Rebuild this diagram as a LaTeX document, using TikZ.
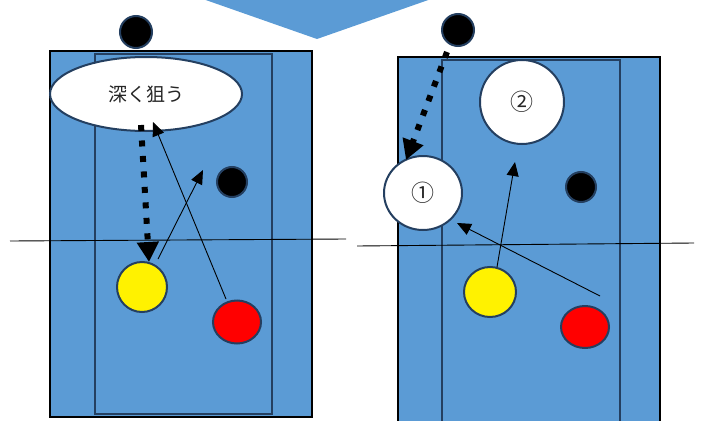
\documentclass[tikz,border=0pt]{standalone}
\usepackage{fontspec}
\newfontfamily\jpfont{Noto Sans CJK JP}
\usetikzlibrary{arrows.meta,shapes.geometric}
\definecolor{court}{HTML}{5B9BD5}
\definecolor{edge}{HTML}{243F60}
\tikzset{
  outer/.style={fill=court,draw=black,line width=2.4pt},
  inner/.style={draw=edge,line width=1.8pt},
  ball/.style={ellipse,draw=edge,line width=2pt,inner sep=0pt},
  net/.style={draw=black,line width=0.9pt},
  move/.style={draw=black,line width=0.9pt,-{Triangle[length=14pt,width=12pt]}},
  deep/.style={draw=black,line width=6pt,dash pattern=on 6pt off 9.5pt,-{Triangle[length=20pt,width=21pt]}},
  lbl/.style={font=\jpfont\fontsize{19}{19}\selectfont,text=black!85},
  num/.style={font=\jpfont\fontsize{23}{23}\selectfont,text=black!85}
}
\begin{document}
\begin{tikzpicture}[x=1pt,y=-1pt]
\useasboundingbox (0,0) rectangle (714,420);
% top triangle
\fill[court] (200,-2) -- (434,-2) -- (317,39) -- cycle;
% ---------- left court ----------
\draw[outer] (50,51) rectangle (312,417);
\draw[inner] (95,54) rectangle (272,414);
\node[ball,fill=black,minimum width=32pt,minimum height=32pt] (Ltop) at (136,32) {};
\node[ball,fill=white,minimum width=192pt,minimum height=74pt,lbl] (Lell) at (146,94) {深く狙う};
\node[ball,fill=black,minimum width=30pt,minimum height=30pt] (Lblk) at (232,182) {};
\node[ball,fill=yellow,minimum width=50pt,minimum height=50pt] (Ly) at (142,287) {};
\node[ball,fill=red,minimum width=48pt,minimum height=43pt] (Lr) at (237,322) {};
\coordinate (LnetA) at (10,241);
\coordinate (LnetB) at (346,239);
\draw[net] (LnetA) -- (LnetB);
\coordinate (Ld1) at (141,125);
\coordinate (Ld2) at (149,262);
\draw[deep] (Ld1) -- (Ld2);
\coordinate (La1) at (226,299);
\coordinate (La2) at (153,122);
\draw[move] (La1) -- (La2);
\coordinate (Lb1) at (158,259);
\coordinate (Lb2) at (203,170);
\draw[move] (Lb1) -- (Lb2);
% ---------- right court ----------
\draw[outer] (398,57) rectangle (660,425);
\draw[inner] (442,60) rectangle (620,422);
\node[ball,fill=black,minimum width=32pt,minimum height=32pt] (Rtop) at (458,30) {};
\node[ball,fill=white,minimum width=84pt,minimum height=84pt,num] (R2) at (522,102) {②};
\node[ball,fill=white,minimum width=78pt,minimum height=74pt,num] (R1) at (423,193) {①};
\node[ball,fill=black,minimum width=30pt,minimum height=30pt] (Rblk) at (581,187) {};
\node[ball,fill=yellow,minimum width=52pt,minimum height=50pt] (Ry) at (490,292) {};
\node[ball,fill=red,minimum width=48pt,minimum height=42pt] (Rr) at (585,327) {};
\coordinate (RnetA) at (357,246);
\coordinate (RnetB) at (694,243);
\draw[net] (RnetA) -- (RnetB);
\coordinate (Rd1) at (447,52);
\coordinate (Rd2) at (406,160);
\draw[deep] (Rd1) -- (Rd2);
\coordinate (Ra1) at (497,267);
\coordinate (Ra2) at (515,162);
\draw[move] (Ra1) -- (Ra2);
\coordinate (Rb1) at (600,296);
\coordinate (Rb2) at (457,223);
\draw[move] (Rb1) -- (Rb2);
\end{tikzpicture}
\end{document}
